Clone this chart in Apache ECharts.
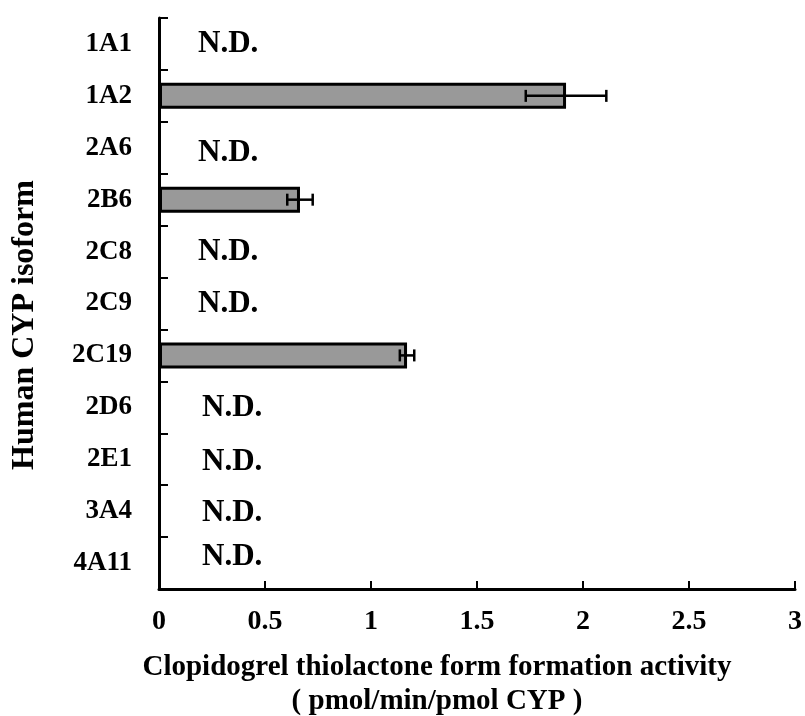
<!DOCTYPE html>
<html>
<head>
<meta charset="utf-8">
<script src="https://cdn.jsdelivr.net/npm/echarts@6/dist/echarts.min.js"></script>
<style>
  html, body { margin: 0; padding: 0; background: #ffffff; }
  #chart { width: 805px; height: 716px; }
</style>
</head>
<body>
<div id="chart"></div>
<script>
// CYP isoforms, top to bottom
var isoforms = ['1A1', '1A2', '2A6', '2B6', '2C8', '2C9', '2C19', '2D6', '2E1', '3A4', '4A11'];
// Mean formation activity (pmol/min/pmol CYP); null = not detected
var activity = [null, 1.92, null, 0.665, null, null, 1.17, null, null, null, null];
// Standard deviation of each mean
var activitySD = [null, 0.19, null, 0.06, null, null, 0.034, null, null, null, null];
// Value-axis ticks
var xTicks = [0, 0.5, 1, 1.5, 2, 2.5, 3];
var ndText = 'N.D.';

var serif = '"Liberation Serif", "Times New Roman", serif';

var chart = echarts.init(document.getElementById('chart'), null, { renderer: 'canvas' });

// Bars for the isoforms with measurable activity
var barData = activity.map(function (v) { return v === null ? '-' : v; });

// Error bars: [categoryIndex, mean, low, high]
var errData = [];
activity.forEach(function (v, i) {
  if (v !== null) errData.push([i, v, v - activitySD[i], v + activitySD[i]]);
});

// "N.D." markers for isoforms without activity
var ndShift = { 2: [0, 5], 7: [4, 1], 8: [4, 3], 9: [4, 2], 10: [4, -6] };
var ndData = [];
activity.forEach(function (v, i) {
  if (v === null) {
    var off = ndShift[i] || [0, 0];
    ndData.push({
      value: [0, i],
      label: { offset: [off[0], off[1]] }
    });
  }
});

var option = {
  animation: false,
  backgroundColor: '#ffffff',
  grid: { left: 159, right: 9, top: 18, bottom: 127, containLabel: false },
  xAxis: {
    type: 'value',
    min: xTicks[0],
    max: xTicks[xTicks.length - 1],
    interval: xTicks[1] - xTicks[0],
    axisLine: { show: true, lineStyle: { color: '#000', width: 3 } },
    axisTick: { show: true, inside: true, length: 8, lineStyle: { color: '#000', width: 2 } },
    splitLine: { show: false },
    axisLabel: {
      margin: 19,
      color: '#000',
      fontFamily: serif,
      fontWeight: 'bold',
      fontSize: 28,
      formatter: function (v) { return String(v); }
    }
  },
  yAxis: {
    type: 'category',
    data: isoforms,
    inverse: true,
    axisLine: { show: true, lineStyle: { color: '#000', width: 3 } },
    axisTick: { show: true, inside: true, length: 9, alignWithLabel: false, lineStyle: { color: '#000', width: 2 } },
    splitLine: { show: false },
    axisLabel: {
      margin: 27,
      color: '#000',
      fontFamily: serif,
      fontWeight: 'bold',
      fontSize: 27
    }
  },
  series: [
    {
      name: 'activity',
      type: 'bar',
      data: barData,
      barWidth: 26,
      itemStyle: { color: '#999999', borderColor: '#000', borderWidth: 3 },
      z: 2
    },
    {
      name: 'sd',
      type: 'custom',
      data: errData,
      z: 3,
      renderItem: function (params, api) {
        var cat = api.value(0);
        var lo = api.coord([api.value(2), cat]);
        var hi = api.coord([api.value(3), cat]);
        var cap = 6;
        var style = { stroke: '#000', lineWidth: 2.5 };
        return {
          type: 'group',
          children: [
            { type: 'line', shape: { x1: lo[0], y1: lo[1], x2: hi[0], y2: hi[1] }, style: style },
            { type: 'line', shape: { x1: lo[0], y1: lo[1] - cap, x2: lo[0], y2: lo[1] + cap }, style: style },
            { type: 'line', shape: { x1: hi[0], y1: hi[1] - cap, x2: hi[0], y2: hi[1] + cap }, style: style }
          ]
        };
      }
    },
    {
      name: 'nd',
      type: 'scatter',
      data: ndData,
      symbolSize: 0,
      silent: true,
      itemStyle: { opacity: 1 },
      label: {
        show: true,
        position: 'right',
        distance: 39,
        formatter: ndText,
        color: '#000',
        opacity: 1,
        fontFamily: serif,
        fontWeight: 'bold',
        fontSize: 31
      },
      z: 4
    }
  ],
  graphic: [
    {
      type: 'text',
      x: 25,
      y: 325,
      rotation: Math.PI / 2,
      style: {
        text: 'Human CYP isoform',
        fill: '#000',
        font: 'bold 32px ' + serif,
        textAlign: 'center',
        textVerticalAlign: 'middle'
      }
    },
    {
      type: 'text',
      x: 437,
      y: 685,
      style: {
        text: 'Clopidogrel thiolactone form formation activity\n( pmol/min/pmol CYP )',
        fill: '#000',
        font: 'bold 29px ' + serif,
        lineHeight: 34,
        textAlign: 'center',
        textVerticalAlign: 'middle'
      }
    }
  ]
};

chart.setOption(option);
</script>
</body>
</html>
